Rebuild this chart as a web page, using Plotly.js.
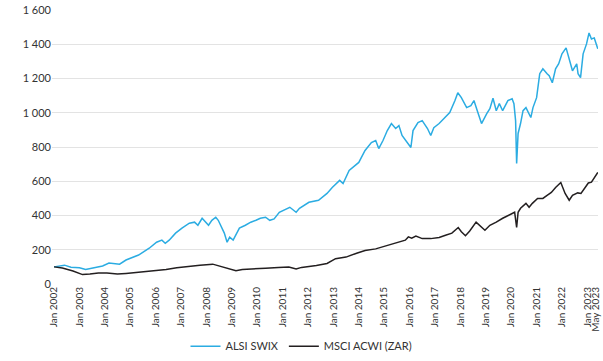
<!DOCTYPE html>
<html>
<head>
<meta charset="utf-8">
<script src="https://cdn.plot.ly/plotly-3.0.1.min.js"></script>
<style>html,body{margin:0;padding:0;background:#fff;}#chart{width:603px;height:361px;}</style>
</head>
<body>
<div id="chart"></div>
<script>
// ALSI SWIX (indexed, Jan 2002 = 100)
const alsiDates = [
 "2002-01-01","2002-04-01","2002-06-01","2002-09-01","2003-01-01","2003-04-01","2003-08-01","2003-12-01","2004-03-01","2004-08-01",
 "2004-11-01","2005-05-01","2005-10-01","2006-01-15","2006-04-01","2006-05-20","2006-07-15","2006-10-15","2007-01-15","2007-05-01",
 "2007-07-15","2007-09-01","2007-11-01","2007-12-15","2008-02-01","2008-03-20","2008-05-15","2008-06-20","2008-08-01","2008-09-15",
 "2008-10-25","2008-12-01","2009-01-20","2009-03-10","2009-04-20","2009-07-15","2009-10-01","2009-12-15","2010-02-15","2010-05-01",
 "2010-07-01","2010-09-01","2010-11-15","2011-04-15","2011-07-15","2011-09-01","2012-01-15","2012-06-01","2012-10-01","2012-12-15",
 "2013-04-01","2013-05-20","2013-08-15","2014-01-01","2014-04-01","2014-07-01","2014-09-01","2014-10-15","2014-12-15","2015-02-15",
 "2015-04-15","2015-06-15","2015-08-01","2015-09-15","2015-12-01","2016-01-20","2016-02-20","2016-05-01","2016-07-01","2016-09-15",
 "2016-11-01","2016-12-15","2017-03-01","2017-05-15","2017-08-01","2017-10-15","2017-11-25","2018-01-15","2018-04-01","2018-06-01",
 "2018-07-15","2018-09-01","2018-11-01","2019-01-15","2019-03-01","2019-04-15","2019-06-01","2019-07-15","2019-09-01","2019-11-15",
 "2020-01-15","2020-02-10","2020-03-05","2020-03-20","2020-04-10","2020-05-15","2020-06-20","2020-08-01","2020-09-10","2020-10-10",
 "2020-11-10","2021-01-01","2021-02-15","2021-04-01","2021-06-01","2021-07-01","2021-08-15","2021-10-01","2021-11-15","2022-01-01",
 "2022-03-01","2022-03-20","2022-04-15","2022-06-01","2022-08-01","2022-08-20","2022-09-25","2022-11-01","2022-12-20","2023-01-25",
 "2023-03-01","2023-04-10","2023-05-31"];
const alsiValues = [
 100,108,110,98,95,85,95,105,122,116,
 140,169,209,244,256,238,256,297,326,355,
 361,343,384,361,343,372,390,372,332,297,
 244,273,256,297,326,343,361,372,384,390,
 372,380,419,448,419,442,477,489,529,564,
 605,587,663,710,780,826,838,791,838,896,
 937,908,925,867,826,797,896,943,954,908,
 867,913,937,966,1001,1071,1117,1088,1030,1041,
 1071,1012,937,995,1024,1085,1012,1053,1012,1071,
 1082,1053,954,704,879,937,1012,1030,995,972,
 1030,1088,1228,1257,1228,1216,1175,1257,1286,1344,
 1379,1350,1303,1245,1286,1228,1205,1344,1402,1466,
 1431,1437,1373];

// MSCI ACWI (ZAR) (indexed, Jan 2002 = 100)
const msciDates = ["2002-01-01","2002-05-01","2002-10-01","2003-02-15","2003-06-01","2003-10-01","2004-02-01","2004-07-01","2004-11-01","2005-05-01","2005-11-01","2006-06-01","2006-11-01","2007-05-01","2007-10-01","2008-04-01","2008-07-01","2008-10-01","2009-03-01","2009-06-01","2009-11-01","2010-05-01","2010-11-01","2011-04-01","2011-07-15","2011-10-01","2012-05-01","2012-10-01","2013-02-01","2013-07-01","2013-12-01","2014-04-01","2014-09-01","2015-02-01","2015-05-01","2015-08-01","2015-11-01","2015-12-15","2016-02-01","2016-04-01","2016-07-01","2016-11-01","2017-03-01","2017-06-01","2017-09-01","2017-12-01","2018-01-15","2018-03-15","2018-05-15","2018-08-15","2018-11-01","2018-12-20","2019-03-01","2019-06-01","2019-09-01","2020-01-15","2020-02-20","2020-03-20","2020-04-10","2020-05-15","2020-08-01","2020-09-15","2020-11-01","2021-01-15","2021-04-01","2021-06-01","2021-08-01","2021-10-01","2021-12-15","2022-02-15","2022-04-15","2022-06-01","2022-08-15","2022-10-01","2022-11-15","2023-01-15","2023-03-01","2023-04-20","2023-05-31"];
const msciValues = [100,93,76,55,58,64,64,58,62,68,76,85,95,105,110,116,105,95,78,85,90,92,97,99,88,97,108,120,148,157,180,196,205,222,236,242,256,275,268,280,265,265,272,285,297,330,305,282,310,361,332,314,343,361,384,413,419,330,419,442,471,448,471,500,500,518,535,564,593,529,489,518,532,529,558,590,595,623,652];

const xTickVals = ["2002-01-01","2003-01-01","2004-01-01","2005-01-01","2006-01-01","2007-01-01","2008-01-01","2009-01-01","2010-01-01","2011-01-01","2012-01-01","2013-01-01","2014-01-01","2015-01-01","2016-01-01","2017-01-01","2018-01-01","2019-01-01","2020-01-01","2021-01-01","2022-01-01","2023-01-01","2023-05-01"];
const xTickText = ["Jan 2002","Jan 2003","Jan 2004","Jan 2005","Jan 2006","Jan 2007","Jan 2008","Jan 2009","Jan 2010","Jan 2011","Jan 2012","Jan 2013","Jan 2014","Jan 2015","Jan 2016","Jan 2017","Jan 2018","Jan 2019","Jan 2020","Jan 2021","Jan 2022","Jan 2023","May 2023"];
const yTickVals = [0,200,400,600,800,1000,1200,1400,1600];
const yTickText = ["0","200","400","600","800","1 000","1 200","1 400","1 600"];

const traces = [
  {x: alsiDates, y: alsiValues, type: "scatter", mode: "lines", name: "ALSI SWIX",
   line: {color: "#2BACE2", width: 1.5}},
  {x: msciDates, y: msciValues, type: "scatter", mode: "lines", name: "MSCI ACWI (ZAR)",
   line: {color: "#231F20", width: 1.5}}
];

const layout = {
  width: 603, height: 361,
  margin: {l: 52, r: 5, t: 10, b: 77},
  paper_bgcolor: "#fff", plot_bgcolor: "#fff",
  font: {family: "Lato, 'Open Sans', sans-serif", size: 11, color: "#333"},
  showlegend: true,
  legend: {orientation: "h", x: 0.5, xanchor: "center", xref: "container", yref: "container",
           y: 0.041, yanchor: "middle", font: {size: 11, color: "#333"}},
  xaxis: {type: "date", range: ["2001-12-03", "2023-06-03"], tickvals: xTickVals, ticktext: xTickText,
          tickangle: -90, tickfont: {size: 10, color: "#333"}, showgrid: false, zeroline: false,
          showline: false, ticks: "", fixedrange: true, automargin: false},
  yaxis: {range: [0, 1600], tickvals: yTickVals, ticktext: yTickText, tickfont: {size: 11, color: "#333"},
          showgrid: true, gridcolor: "#e3e3e3", gridwidth: 1, zeroline: false, showline: false,
          ticks: "", ticklen: 0, fixedrange: true, automargin: false}
};

Plotly.newPlot("chart", traces, layout, {displayModeBar: false, staticPlot: true});
</script>
</body>
</html>
